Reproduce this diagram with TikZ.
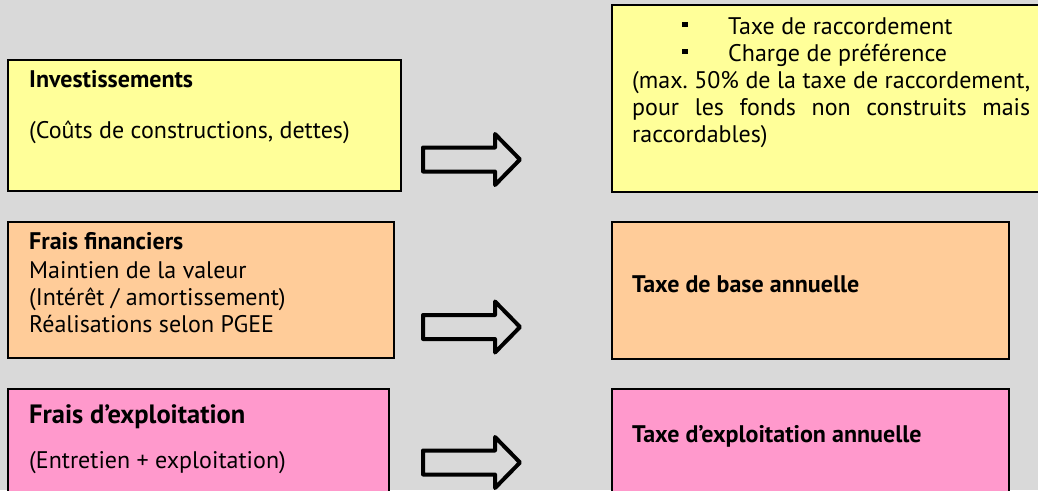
\documentclass[tikz,border=0pt]{standalone}
\usepackage{fontspec}
\setmainfont{PT Sans}
\frenchspacing
\definecolor{bgc}{HTML}{D9D9D9}
\definecolor{yel}{HTML}{FFFF99}
\definecolor{ora}{HTML}{FFCC99}
\definecolor{pnk}{HTML}{FF99CC}
\tikzset{
  box/.style={draw=black, line width=2pt, anchor=north west, inner sep=0pt},
  txt/.style={anchor=base west, inner sep=0pt, font=\fontsize{24}{28}\selectfont},
  btxt/.style={txt, font=\fontsize{24}{28}\selectfont\bfseries},
  bigbtxt/.style={txt, font=\fontsize{26.5}{30}\selectfont\bfseries},
  bigarrow/.pic={\draw[line width=4pt, line join=round, fill=bgc]
      (-48.5,-12) -- (23.5,-12) -- (23.5,-25.5) -- (48.5,0) -- (23.5,25.5)
      -- (23.5,12) -- (-48.5,12) -- cycle;},
  bul/.style={fill=black, inner sep=0pt, minimum size=5.5pt, anchor=center}
}
\begin{document}
\begin{tikzpicture}[x=1pt,y=-1pt]
\fill[bgc] (0,0) rectangle (1038,490);
\useasboundingbox (0,0) rectangle (1038,490);
% left boxes
\node[box, fill=yel, minimum width=393pt, minimum height=131pt] (inv) at (7,59) {};
\node[box, fill=ora, minimum width=386pt, minimum height=136pt] (fin) at (7,221) {};
\node[box, fill=pnk, minimum width=381pt, minimum height=140pt] (exp) at (7,388) {};
% right boxes
\node[box, fill=yel, minimum width=440pt, minimum height=187pt] (rac) at (611,4) {};
\node[box, fill=ora, minimum width=397pt, minimum height=137pt] (base) at (611,221) {};
\node[box, fill=pnk, minimum width=397pt, minimum height=140pt] (texp) at (611,388) {};
% arrows
\pic at (471.5,159.5) {bigarrow};
\pic at (471.5,327) {bigarrow};
\pic at (471.5,462.5) {bigarrow};
% left texts
\node[btxt] (t1) at (29,87) {Investissements};
\node[txt] (t2) at (29,138) {(Coûts de constructions, dettes)};
\node[btxt] (t3) at (29,249) {Frais financiers};
\node[txt] (t4) at (29,278) {Maintien de la valeur};
\node[txt] (t5) at (29,305) {(Intérêt / amortissement)};
\node[txt] (t6) at (29,332) {Réalisations selon PGEE};
\node[bigbtxt] (t7) at (29,423) {Frais d’exploitation};
\node[txt] (t8) at (29,468) {(Entretien + exploitation)};
% right texts
\node[bul] (b1) at (685,24.5) {};
\node[bul] (b2) at (685,51.5) {};
\node[txt] (r1) at (728,34) {Taxe de raccordement};
\node[txt] (r2) at (728,61) {Charge de préférence};
\node[txt] (r3) at (632,88) {\makebox[398pt][s]{(max. 50\% de la taxe de raccordement,}};
\node[txt] (r4) at (632,115) {\makebox[398pt][s]{pour les fonds non construits mais}};
\node[txt] (r5) at (632,142) {raccordables)};
\node[btxt] (r6) at (632,292) {Taxe de base annuelle};
\node[btxt] (r7) at (632,442) {Taxe d’exploitation annuelle};
\end{tikzpicture}
\end{document}
